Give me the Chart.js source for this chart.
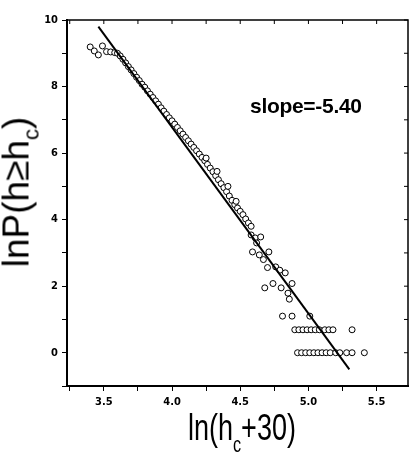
<!DOCTYPE html>
<html>
<head>
<meta charset="utf-8">
<script src="https://cdn.jsdelivr.net/npm/chart.js@4"></script>
<style>
  body { margin: 0; background: #fff; }
  #wrap { position: relative; width: 413px; height: 454px; }
  .lbl { position: absolute; white-space: nowrap; color: #000; line-height: 1; }
  #ytitle { left: 20px; top: 192px; font: 37px "Liberation Sans", Arial, sans-serif;
            transform: translate(-50%, -50%) rotate(-90deg); }
  #xtitle { left: 188px; top: 407px; font: 36px "Liberation Sans", Arial, sans-serif;
            transform: scaleX(0.75); transform-origin: left top; }
  #slope { left: 250px; top: 94px; font: bold 21px "Liberation Sans", Arial, sans-serif; letter-spacing: -0.3px; }
  .sub { font-size: 0.6em; }
</style>
</head>
<body>
<div id="wrap">
  <canvas id="chart" width="413" height="454"></canvas>
  <div class="lbl" id="ytitle">lnP(h≥h<span class="sub" style="vertical-align:-0.45em">c</span>)</div>
  <div class="lbl" id="xtitle">ln(h<span class="sub" style="vertical-align:-0.55em">c</span>+30)</div>
  <div class="lbl" id="slope">slope=-5.40</div>
</div>
<script>
// fitted line end points
const fitX = [3.46, 5.30];
const fitY = [9.8, -0.5];

// data points
const ptX = [3.40, 3.43, 3.46, 3.49, 3.52, 3.55, 3.58, 3.60,
  3.62, 3.64, 3.66, 3.68, 3.70, 3.72, 3.74, 3.76, 3.78, 3.80,
  3.82, 3.84, 3.86, 3.88, 3.90, 3.92, 3.94, 3.96, 3.98, 4.00,
  4.02, 4.04, 4.06, 4.08, 4.10, 4.12, 4.14, 4.16, 4.18, 4.20,
  4.22, 4.24, 4.26, 4.28, 4.30, 4.32, 4.34, 4.36, 4.38, 4.40,
  4.42, 4.44, 4.46, 4.48, 4.50, 4.52, 4.54, 4.56, 4.58,
  4.25, 4.33, 4.41, 4.47,
  4.58, 4.61, 4.65, 4.62, 4.59, 4.64, 4.71, 4.67, 4.70, 4.76,
  4.79, 4.83, 4.68, 4.74, 4.80, 4.85, 4.88, 4.86, 4.81, 4.88, 5.01,
  4.90, 4.93, 4.96, 4.99, 5.02, 5.05, 5.08, 5.12, 5.15, 5.18, 5.32,
  4.92, 4.95, 4.98, 5.01, 5.04, 5.07, 5.10, 5.13, 5.16, 5.20, 5.23, 5.28, 5.32, 5.41];
const ptY = [9.19, 9.07, 8.95, 9.22, 9.05, 9.04, 9.02, 9.00,
  8.92, 8.82, 8.71, 8.60, 8.50, 8.39, 8.28, 8.18, 8.07, 7.98,
  7.87, 7.77, 7.67, 7.57, 7.47, 7.36, 7.26, 7.16, 7.06, 6.97,
  6.87, 6.77, 6.67, 6.57, 6.47, 6.37, 6.27, 6.17, 6.07, 5.97,
  5.87, 5.77, 5.66, 5.55, 5.44, 5.32, 5.20, 5.08, 4.96, 4.84,
  4.71, 4.58, 4.45, 4.35, 4.25, 4.15, 4.02, 3.90, 3.80,
  5.85, 5.45, 5.00, 4.55,
  3.54, 3.45, 3.48, 3.30, 3.03, 2.94, 3.03, 2.80, 2.56, 2.58,
  2.48, 2.40, 1.95, 2.08, 1.95, 1.79, 2.08, 1.61, 1.10, 1.10, 1.10,
  0.69, 0.69, 0.69, 0.69, 0.69, 0.69, 0.69, 0.69, 0.69, 0.69, 0.69,
  0, 0, 0, 0, 0, 0, 0, 0, 0, 0, 0, 0, 0, 0];

// axis ticks
const xTicks = [3.25, 3.5, 3.75, 4.0, 4.25, 4.5, 4.75, 5.0, 5.25, 5.5];
const xLabels = ['', '3.5', '', '4.0', '', '4.5', '', '5.0', '', '5.5'];
const yTicks = [-1, 0, 1, 2, 3, 4, 5, 6, 7, 8, 9, 10];
const yLabels = ['', '0', '', '2', '', '4', '', '6', '', '8', '', '10'];

const tickFont = { family: '"Liberation Sans Narrow", "DejaVu Sans Condensed", sans-serif', size: 11, weight: 'bold' };

const frame = {
  id: 'frame',
  afterDraw(chart) {
    const { ctx, chartArea: a, scales } = chart;
    ctx.save();
    ctx.strokeStyle = '#000';
    ctx.lineWidth = 1.5;
    ctx.beginPath();
    ctx.moveTo(a.left, a.top); ctx.lineTo(a.right, a.top); ctx.lineTo(a.right, a.bottom);
    ctx.stroke();
    ctx.lineWidth = 1;
    ctx.beginPath();
    xTicks.forEach(v => { const px = scales.x.getPixelForValue(v); ctx.moveTo(px, a.top); ctx.lineTo(px, a.top + 4); });
    yTicks.forEach(v => { const py = scales.y.getPixelForValue(v); ctx.moveTo(a.right, py); ctx.lineTo(a.right - 4, py); });
    ctx.stroke();
    ctx.restore();
  }
};

new Chart(document.getElementById('chart'), {
  type: 'scatter',
  data: {
    datasets: [
      {
        data: fitX.map((x, i) => ({ x: x, y: fitY[i] })),
        showLine: true, borderColor: '#000', borderWidth: 2, pointRadius: 0
      },
      {
        data: ptX.map((x, i) => ({ x: x, y: ptY[i] })),
        pointRadius: 3, pointBorderWidth: 1, borderColor: '#000', backgroundColor: '#fff'
      }
    ]
  },
  options: {
    responsive: false,
    animation: false,
    layout: { padding: { top: 20, right: 1, left: 0, bottom: 0 } },
    plugins: { legend: { display: false }, tooltip: { enabled: false } },
    scales: {
      x: {
        min: 3.23, max: 5.73,
        afterBuildTicks: s => { s.ticks = xTicks.map(v => ({ value: v })); },
        afterFit: s => { s.height = 68; },
        ticks: { color: '#000', font: tickFont, padding: 5, maxRotation: 0, autoSkip: false,
                 callback: (v, i) => xLabels[i] },
        grid: { drawOnChartArea: false, color: '#000', tickLength: 5 },
        border: { color: '#000', width: 2 }
      },
      y: {
        min: -1, max: 10,
        afterBuildTicks: s => { s.ticks = yTicks.map(v => ({ value: v })); },
        afterFit: s => { s.width = 67; },
        ticks: { color: '#000', font: tickFont, padding: 4, autoSkip: false,
                 callback: (v, i) => yLabels[i] },
        grid: { drawOnChartArea: false, color: '#000', tickLength: 5 },
        border: { color: '#000', width: 2 }
      }
    }
  },
  plugins: [frame]
});
</script>
</body>
</html>
